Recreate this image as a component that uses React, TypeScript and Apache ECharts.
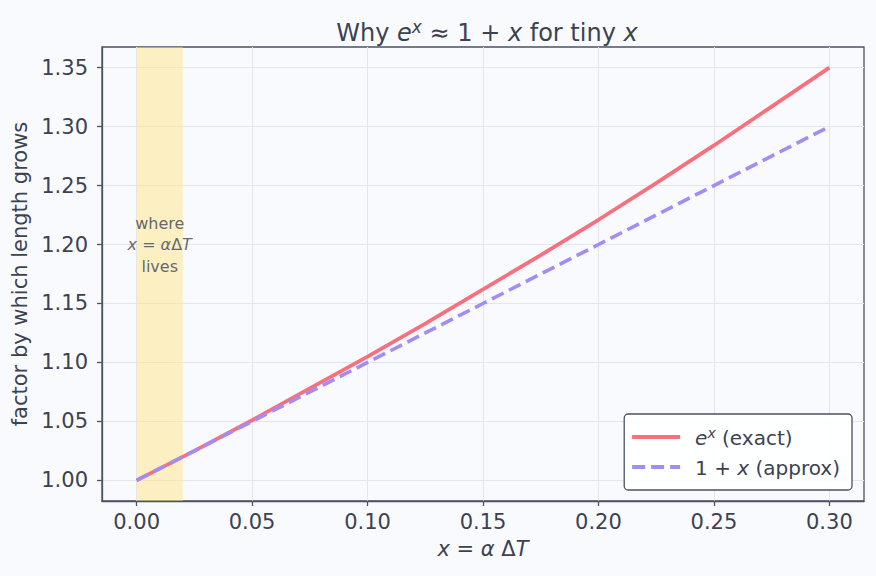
import React, { useEffect, useRef } from "react";
import * as echarts from "echarts";

// x = alpha * dT sample points
const xValues = [0, 0.025, 0.05, 0.075, 0.1, 0.125, 0.15, 0.175, 0.2, 0.225, 0.25, 0.275, 0.3];
// exact growth factor e^x
const exactValues = [1.0, 1.025, 1.051, 1.078, 1.105, 1.133, 1.162, 1.191, 1.221, 1.252, 1.284, 1.317, 1.35];
// linear approximation 1 + x
const approxValues = [1.0, 1.025, 1.05, 1.075, 1.1, 1.125, 1.15, 1.175, 1.2, 1.225, 1.25, 1.275, 1.3];

const xTicks = [0, 0.05, 0.1, 0.15, 0.2, 0.25, 0.3];
const yTicks = [1.0, 1.05, 1.1, 1.15, 1.2, 1.25, 1.3, 1.35];

// shaded band where realistic x lives
const bandRange = [0, 0.02];
const notePoint = [0.01, 1.2];

const FONT = "DejaVu Sans";
const TEXT = "#3b4252";
const SPINE = "#4b5263";
const GRIDLINE = "#e4e6ec";
const RED = "#f6707f";
const PURPLE = "#a38cf4";

const mathRich = (size: number, supSize: number, supRaise: number, lh: number) => ({
  n: { fontFamily: FONT, fontSize: size, fontWeight: "normal", color: TEXT, lineHeight: lh, verticalAlign: "bottom" },
  i: {
    fontFamily: FONT,
    fontSize: size,
    fontWeight: "normal",
    color: TEXT,
    fontStyle: "italic",
    lineHeight: lh,
    verticalAlign: "bottom",
  },
  s: {
    fontFamily: FONT,
    fontSize: supSize,
    fontWeight: "normal",
    color: TEXT,
    fontStyle: "italic",
    lineHeight: supSize + 2,
    padding: [0, 0, supRaise, 0],
    verticalAlign: "bottom",
  },
});

export default function App() {
  const ref = useRef<HTMLDivElement>(null);

  useEffect(() => {
    if (!ref.current) return;
    const chart = echarts.init(ref.current, null, { renderer: "svg" });

    const exactData = xValues.map((x, k) => [x, exactValues[k]]);
    const approxData = xValues.map((x, k) => [x, approxValues[k]]);

    chart.setOption({
      animation: false,
      backgroundColor: "#f9fafd",
      title: {
        text: "{n|Why }{i|e}{s|x}{n| ≈ 1 + }{i|x}{n| for tiny }{i|x}",
        left: 482,
        top: 10,
        textAlign: "center",
        textStyle: { fontWeight: "normal", rich: mathRich(24, 17, 10, 30) },
      },
      grid: {
        left: 102,
        right: 12,
        top: 47,
        bottom: 75,
        show: true,
        borderColor: SPINE,
        borderWidth: 1.3,
        backgroundColor: "transparent",
      },
      legend: {
        orient: "vertical",
        right: 24,
        bottom: 86,
        padding: [12, 12, 12, 6],
        itemGap: 10,
        itemWidth: 48,
        itemHeight: 14,
        backgroundColor: "rgba(255,255,255,0.85)",
        borderColor: SPINE,
        borderWidth: 1.3,
        borderRadius: 4,
        itemStyle: { opacity: 0 },
        lineStyle: { width: 3.8 },
        data: ["exact", "approx"],
        formatter: (name: string) =>
          name === "exact"
            ? "{i|e}{s|x}{n| (exact)}"
            : "{n|1 + }{i|x}{n| (approx)}",
        textStyle: {
          padding: [0, 0, 0, 10],
          rich: mathRich(20, 14, 8, 22),
        },
      },
      xAxis: {
        type: "value",
        min: -0.015,
        max: 0.315,
        name: "{i|x}{n| = }{i|α}{n| Δ}{i|T}",
        nameLocation: "middle",
        nameGap: 36,
        nameTextStyle: { rich: mathRich(21, 14, 7, 22) },
        axisLine: { show: true, onZero: false, lineStyle: { color: SPINE, width: 1.3 } },
        axisTick: {
          show: true,
          customValues: xTicks,
          length: 5,
          lineStyle: { color: SPINE, width: 1.3 },
        },
        axisLabel: {
          customValues: xTicks,
          margin: 10,
          color: TEXT,
          fontFamily: FONT,
          fontSize: 21,
          formatter: (v: number) => v.toFixed(2),
        },
        splitLine: { show: true, lineStyle: { color: GRIDLINE, width: 1 } },
      },
      yAxis: {
        type: "value",
        min: 0.9825,
        max: 1.3675,
        name: "factor by which length grows",
        nameLocation: "middle",
        nameGap: 72,
        nameTextStyle: { fontFamily: FONT, fontSize: 21, color: TEXT },
        axisLine: { show: true, onZero: false, lineStyle: { color: SPINE, width: 1.3 } },
        axisTick: {
          show: true,
          customValues: yTicks,
          length: 5,
          lineStyle: { color: SPINE, width: 1.3 },
        },
        axisLabel: {
          customValues: yTicks,
          margin: 14,
          color: TEXT,
          fontFamily: FONT,
          fontSize: 21,
          formatter: (v: number) => v.toFixed(2),
        },
        splitLine: { show: true, lineStyle: { color: GRIDLINE, width: 1 } },
      },
      series: [
        {
          name: "exact",
          type: "line",
          data: exactData,
          symbol: "none",
          showSymbol: false,
          lineStyle: { color: RED, width: 3.8 },
          itemStyle: { color: RED },
          z: 3,
          markArea: {
            silent: true,
            itemStyle: { color: "rgba(255,228,122,0.45)" },
            data: [[{ xAxis: bandRange[0] }, { xAxis: bandRange[1] }]],
          },
        },
        {
          name: "approx",
          type: "line",
          data: approxData,
          symbol: "none",
          showSymbol: false,
          lineStyle: { color: PURPLE, width: 3.6, type: [13, 6] },
          itemStyle: { color: PURPLE },
          z: 4,
        },
        {
          name: "note",
          type: "scatter",
          data: [notePoint],
          symbolSize: 0,
          silent: true,
          z: 5,
          label: {
            show: true,
            position: "inside",
            align: "center",
            verticalAlign: "middle",
            formatter: "{n|where}\n{i|x}{n| = }{i|α}{n|Δ}{i|T}\n{n|lives}",
            rich: {
              n: { fontFamily: FONT, fontSize: 16, color: TEXT, lineHeight: 21.5, align: "center" },
              i: { fontFamily: FONT, fontSize: 16, color: TEXT, fontStyle: "italic", lineHeight: 21.5 },
            },
          },
        },
      ],
    });

    return () => chart.dispose();
  }, []);

  return (
    <div
      ref={ref}
      style={{ position: "fixed", left: 0, top: 0, width: 876, height: 576 }}
    />
  );
}
